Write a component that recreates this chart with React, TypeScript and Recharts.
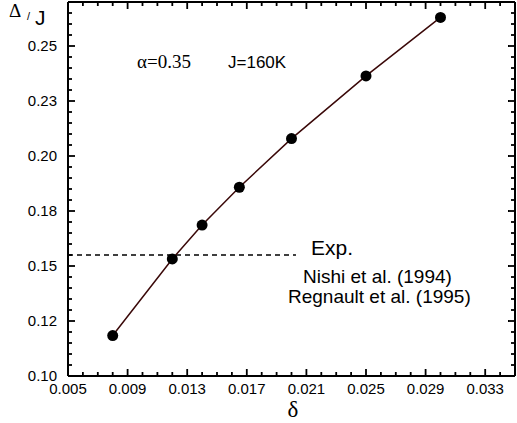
import { LineChart, Line, XAxis, YAxis } from 'recharts'

// delta (doping) vs gap Delta/J, alpha = 0.35, J = 160K
const deltaValues = [0.008, 0.012, 0.014, 0.0165, 0.02, 0.025, 0.03]
const gapValues = [0.1184, 0.1532, 0.1686, 0.1858, 0.2079, 0.2364, 0.263]

// experimental value (Nishi 1994 / Regnault 1995)
const expGap = 0.155
const expDeltaRange = [0.005, 0.0203]

const xMajorTicks = [0.005, 0.009, 0.013, 0.017, 0.021, 0.025, 0.029, 0.033]
const xTickLabels = ['0.005', '0.009', '0.013', '0.017', '0.021', '0.025', '0.029', '0.033']
const yMajorTicks = [0.1, 0.125, 0.15, 0.175, 0.2, 0.225, 0.25]
const yTickLabels = ['0.10', '0.12', '0.15', '0.18', '0.20', '0.23', '0.25']

const xDomain = [0.005, 0.035]
const yDomain = [0.1, 0.27]

// minor ticks every 0.001 on x, 0.005 on y
const xTicks = Array.from({ length: 31 }, (_, i) => Number((0.005 + i * 0.001).toFixed(3)))
const yTicks = Array.from({ length: 35 }, (_, i) => Number((0.1 + i * 0.005).toFixed(3)))

const mainData = deltaValues.map((x, i) => ({ x, y: gapValues[i] }))
const expData = expDeltaRange.map(x => ({ x, y: expGap }))

const SANS = '"Liberation Sans", Arial, sans-serif'
const SERIF = '"Liberation Serif", "Times New Roman", serif'
const TICK = '#000'

const majorIndex = (v: number, majors: number[]) => majors.findIndex(m => Math.abs(m - v) < 1e-9)

function LeftTick(props: any) {
  const { x, y, payload } = props
  const idx = majorIndex(payload.value, yMajorTicks)
  return (
    <g>
      <path d={`M${x},${y}L${x + (idx >= 0 ? 7 : 4)},${y}`} stroke={TICK} strokeWidth={1.8} />
      {idx >= 0 && (
        <text x={x - 11} y={y} dy="0.36em" textAnchor="end" fontFamily={SANS} fontSize={15} fill="#000">
          {yTickLabels[idx]}
        </text>
      )}
    </g>
  )
}

function RightTick(props: any) {
  const { x, y, payload } = props
  const idx = majorIndex(payload.value, yMajorTicks)
  return <path d={`M${x},${y}L${x - (idx >= 0 ? 7 : 4)},${y}`} stroke={TICK} strokeWidth={1.8} />
}

function BottomTick(props: any) {
  const { x, y, payload } = props
  const idx = majorIndex(payload.value, xMajorTicks)
  return (
    <g>
      <path d={`M${x},${y}L${x},${y - (idx >= 0 ? 7 : 4)}`} stroke={TICK} strokeWidth={1.8} />
      {idx >= 0 && (
        <text x={x} y={y + 18} textAnchor="middle" fontFamily={SANS} fontSize={15} fill="#000">
          {xTickLabels[idx]}
        </text>
      )}
    </g>
  )
}

function TopTick(props: any) {
  const { x, y, payload } = props
  const idx = majorIndex(payload.value, xMajorTicks)
  return <path d={`M${x},${y}L${x},${y + (idx >= 0 ? 7 : 4)}`} stroke={TICK} strokeWidth={1.8} />
}

export default function App() {
  return (
    <div style={{ position: 'absolute', left: 0, top: 0, width: 517, height: 423, background: '#fff' }}>
      <LineChart width={517} height={423} margin={{ top: 1, right: 1, bottom: 0, left: 0 }}>
        <XAxis
          dataKey="x"
          type="number"
          domain={xDomain}
          ticks={xTicks}
          interval={0}
          height={47}
          tickLine={false}
          tickSize={0}
          tickMargin={0}
          axisLine={{ stroke: '#000', strokeWidth: 2 }}
          tick={(p: any) => <BottomTick {...p} />}
        />
        <XAxis
          xAxisId="top"
          orientation="top"
          dataKey="x"
          type="number"
          domain={xDomain}
          ticks={xTicks}
          interval={0}
          height={1}
          tickLine={false}
          tickSize={0}
          tickMargin={0}
          axisLine={{ stroke: '#000', strokeWidth: 2 }}
          tick={(p: any) => <TopTick {...p} />}
        />
        <YAxis
          type="number"
          domain={yDomain}
          ticks={yTicks}
          interval={0}
          width={68}
          tickLine={false}
          tickSize={0}
          tickMargin={0}
          axisLine={{ stroke: '#000', strokeWidth: 2 }}
          tick={(p: any) => <LeftTick {...p} />}
        />
        <YAxis
          yAxisId="right"
          orientation="right"
          type="number"
          domain={yDomain}
          ticks={yTicks}
          interval={0}
          width={1}
          tickLine={false}
          tickSize={0}
          tickMargin={0}
          axisLine={{ stroke: '#000', strokeWidth: 2 }}
          tick={(p: any) => <RightTick {...p} />}
        />
        {/* keeps the mirrored top/right axes bound to data */}
        <Line
          xAxisId="top"
          yAxisId="right"
          data={mainData}
          dataKey="y"
          stroke="none"
          dot={false}
          isAnimationActive={false}
        />
        <Line
          data={expData}
          dataKey="y"
          stroke="#000"
          strokeWidth={1.3}
          strokeDasharray="5 4"
          dot={false}
          isAnimationActive={false}
        />
        <Line
          data={mainData}
          dataKey="y"
          stroke="#3a0808"
          strokeWidth={1.5}
          dot={{ r: 5.5, fill: '#000', stroke: '#000', strokeWidth: 0 }}
          isAnimationActive={false}
        />
      </LineChart>
      <svg
        width={517}
        height={423}
        style={{ position: 'absolute', left: 0, top: 0, pointerEvents: 'none' }}
      >
        <text x={9} y={17} fontFamily={SERIF} fontSize={19} fill="#000">Δ</text>
        <text x={27} y={20} fontFamily={SANS} fontSize={11} fill="#000">/</text>
        <text x={35} y={25} fontFamily={SANS} fontSize={21} fill="#000">J</text>
        <text x={137} y={68} fontFamily={SERIF} fontSize={19} fill="#000">α=0.35</text>
        <text x={228} y={68} fontFamily={SANS} fontSize={17} fill="#000">J=160K</text>
        <text x={311} y={255} fontFamily={SANS} fontSize={21} fill="#000">Exp.</text>
        <text x={303} y={283} fontFamily={SANS} fontSize={19} fill="#000">Nishi et al. (1994)</text>
        <text x={288} y={303} fontFamily={SANS} fontSize={19} fill="#000">Regnault et al. (1995)</text>
        <text x={293} y={417} textAnchor="middle" fontFamily={SERIF} fontSize={23} fill="#000">δ</text>
      </svg>
    </div>
  )
}
